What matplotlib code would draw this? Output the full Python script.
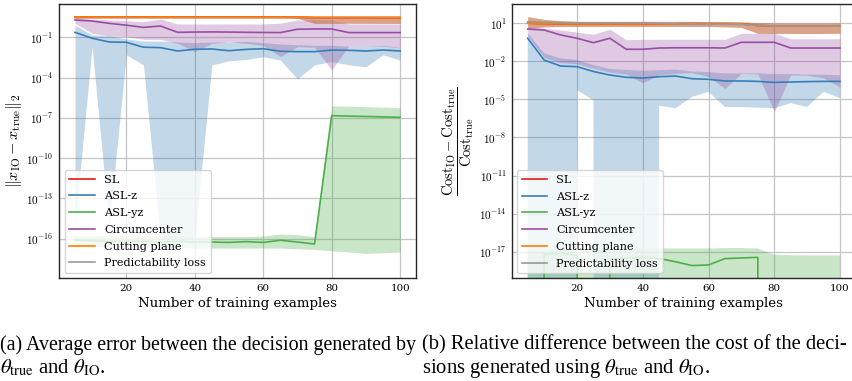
import numpy as np
import matplotlib
matplotlib.use("Agg")
import matplotlib.pyplot as plt
from matplotlib.ticker import NullLocator

NEG = -np.inf  # a value of exactly zero (clipped on the log axis)

# ---------------- data (log10 of the plotted values) ----------------
n_train = [5, 10, 15, 20, 25, 30, 35, 40, 45, 50, 55, 60, 65, 70, 75, 80, 85, 90, 95, 100]

# (a) decision error
a_top_mean = [0.49] * 14 + [0.47, 0.47, 0.47, 0.47, 0.47, 0.47]
a_top_hi = [0.53] * 20
a_top_lo = [0.45] * 13 + [0.42, 0.04, 0.04, 0.05, 0.04, 0.03, 0.03]

a_aslz_mean = [-0.63, -1.07, -1.35, -1.37, -1.74, -1.77, -2.02, -1.89, -1.87, -2.0,
               -1.9, -1.85, -2.04, -2.07, -2.07, -1.95, -1.97, -2.02, -1.95, -2.02]
a_aslz_lo = [-15.0, -1.7, -15.0, -2.3, -3.06, -16.0, -16.0, -16.0, -3.06, -2.75,
             -2.65, -2.45, -2.7, -4.1, -3.05, -2.8, -3.05, -3.2, -2.3, -2.7]
a_aslz_hi = [-0.08, -0.83, -0.87, -1.13, -1.28, -1.28, -1.35, -1.4, -1.35, -1.35,
             -1.3, -1.4, -1.5, -1.55, -1.6, -1.6, -1.65, -1.65, -1.6, -1.75]

a_aslyz_mean = [-16.1, -16.15, -16.2, -16.2, -16.2, -16.25, -16.2, -16.25, -16.25, -16.28,
                -16.22, -16.28, -16.12, -16.25, -16.4, -6.84, -6.87, -6.9, -6.93, -6.96]
a_aslyz_hi = [-15.85, -15.8, -15.8, -15.8, -15.8, -15.8, -15.8, -15.85, -15.85, -15.85,
              -15.85, -15.8, -15.65, -15.7, -15.85, -6.11, -6.13, -6.17, -6.2, -6.24]
a_aslyz_lo = [-16.5, -16.6, -16.6, -16.6, -16.6, -16.65, -16.65, -16.7, -16.7, -16.7,
              -16.7, -16.7, -16.7, -16.75, -16.8, -16.9, -17.0, -17.1, -17.05, -17.0]

a_circ_mean = [0.29, 0.21, 0.04, -0.1, -0.26, -0.16, -0.63, -0.61, -0.6, -0.61,
               -0.63, -0.64, -0.65, -0.4, -0.38, -0.38, -0.65, -0.65, -0.65, -0.65]
a_circ_hi = [0.46, 0.36, 0.29, 0.23, 0.16, 0.36, -0.01, -0.01, -0.01, -0.01,
             -0.01, -0.01, 0.05, 0.29, 0.29, 0.29, -0.01, -0.01, -0.01, -0.01]
a_circ_lo = [0.04, -0.7, -0.9, -0.95, -1.15, -1.15, -1.45, -2.07, -1.45, -1.33,
             -1.45, -1.6, -2.44, -1.7, -1.75, -3.43, -1.65, -1.65, -1.65, -1.8]

# (b) relative cost difference
b_cp_mean = [1.0, 0.97, 0.96, 0.95, 0.95, 0.95, 0.95, 0.95, 0.95, 0.96,
             0.97, 0.97, 0.97, 0.96, 0.82, 0.79, 0.79, 0.79, 0.79, 0.78]
b_pl_mean = [1.12, 1.08, 1.05, 1.03, 1.03, 1.03, 1.02, 1.02, 1.0, 0.95,
             0.93, 0.93, 0.93, 0.92, 0.82, 0.79, 0.79, 0.79, 0.79, 0.78]
b_top_hi = [1.52, 1.3, 1.2, 1.15, 1.15, 1.15, 1.15, 1.15, 1.15, 1.15,
            1.15, 1.12, 1.12, 1.1, 1.05, 1.02, 1.02, 1.02, 1.02, 1.02]
b_top_lo = [0.6, 0.72, 0.75, 0.75, 0.75, 0.75, 0.75, 0.75, 0.75, 0.75,
            0.75, 0.75, 0.72, 0.68, 0.21, 0.2, 0.2, 0.2, 0.2, 0.22]

b_aslz_mean = [-0.18, -1.9, -2.37, -2.42, -2.8, -3.08, -3.26, -3.32, -3.21, -3.16,
               -3.37, -3.42, -3.55, -3.55, -3.58, -3.66, -3.63, -3.6, -3.58, -3.58]
b_aslz_hi = [0.23, -1.37, -1.76, -1.9, -2.29, -2.6, -2.68, -2.74, -2.7, -2.65,
             -2.8, -2.85, -2.95, -2.95, -2.95, -3.0, -3.0, -3.05, -3.05, -3.1]
b_aslz_lo = [NEG, NEG, NEG, -4.27, -5.05, NEG, NEG, NEG, -5.5, -5.7,
             -4.8, -4.4, -5.6, -5.6, -5.65, -5.7, -5.3, -5.6, -4.4, -4.9]

b_aslyz_mean = [NEG, -17.2, -17.15, -17.3, NEG, -17.6, -17.5, -17.4, -17.55, -17.8,
                -18.1, -18.05, -17.55, -17.5, -17.45, NEG, NEG, NEG, NEG, NEG]
b_aslyz_hi = [-16.95, -17.0, -16.8, -16.8, -16.85, -16.8, -16.75, -16.75, -16.75, -16.75,
              -16.75, -16.75, -16.72, -16.72, -16.75, -17.25, -17.28, -17.3, -17.3, -17.3]
b_aslyz_lo = [NEG] * 20

b_circ_mean = [0.55, 0.47, 0.08, -0.18, -0.53, -0.18, -1.05, -1.05, -0.95, -0.93,
               -0.93, -0.93, -0.95, -0.5, -0.5, -0.5, -0.95, -0.95, -0.95, -0.95]
b_circ_hi = [0.73, 0.6, 0.47, 0.3, 0.13, 0.53, -0.3, -0.26, -0.26, -0.26,
             -0.26, -0.26, -0.26, 0.21, 0.21, 0.21, -0.22, -0.22, -0.22, -0.22]
b_circ_lo = [0.0, -1.7, -2.1, -2.2, -2.55, -2.85, -3.0, -3.69, -3.05, -2.95,
             -2.9, -3.2, -4.15, -2.95, -3.0, -5.97, -3.08, -3.1, -3.3, -4.05]

methods = ["SL", "ASL-z", "ASL-yz", "Circumcenter", "Cutting plane", "Predictability loss"]
colors = ["#e41a1c", "#377eb8", "#4daf4a", "#984ea3", "#ff7f00", "#999999"]

a_yticks = [-16, -13, -10, -7, -4, -1]
b_yticks = [-17, -14, -11, -8, -5, -2, 1]
xticks = [20, 40, 60, 80, 100]

caption_a = ["(a) Average error between the decision generated by",
             r"$\theta_{\mathrm{true}}$ and $\theta_{\mathrm{IO}}$."]
caption_b = ["(b) Relative difference between the cost of the deci-",
             r"sions generated using $\theta_{\mathrm{true}}$ and $\theta_{\mathrm{IO}}$."]

# ---------------- style ----------------
plt.rcParams.update({
    "font.family": "DejaVu Serif",
    "mathtext.fontset": "cm",
    "axes.edgecolor": "#262626",
    "axes.linewidth": 1.0,
    "grid.color": "#c4c4c4",
    "grid.linewidth": 0.9,
})

W, H = 852, 381
fig = plt.figure(figsize=(W / 100, H / 100), dpi=100)


def rect(l, t, r, b):
    return [l / W, 1 - b / H, (r - l) / W, (b - t) / H]


axA = fig.add_axes(rect(58.7, 4, 416.4, 278))
axB = fig.add_axes(rect(512.1, 4, 855.6, 278))

xs = np.array(n_train, dtype=float)


def p(v):
    return 10.0 ** np.asarray(v, dtype=float)


seriesA = [
    (a_top_mean, a_top_lo, a_top_hi, 2.3),
    (a_aslz_mean, a_aslz_lo, a_aslz_hi, 2.1),
    (a_aslyz_mean, a_aslyz_lo, a_aslyz_hi, 2.1),
    (a_circ_mean, a_circ_lo, a_circ_hi, 2.1),
    (a_top_mean, a_top_lo, a_top_hi, 2.4),
    (a_top_mean, a_top_lo, a_top_hi, 2.2),
]
seriesB = [
    (b_cp_mean, b_top_lo, b_top_hi, 2.1),
    (b_aslz_mean, b_aslz_lo, b_aslz_hi, 2.1),
    (b_aslyz_mean, b_aslyz_lo, b_aslyz_hi, 2.1),
    (b_circ_mean, b_circ_lo, b_circ_hi, 2.1),
    (b_cp_mean, b_top_lo, b_top_hi, 2.2),
    (b_pl_mean, b_top_lo, b_top_hi, 2.3),
]

for ax, series, ylim, yt in [
    (axA, seriesA, (-18.93, 1.48), a_yticks),
    (axB, seriesB, (-19.08, 2.52), b_yticks),
]:
    ax.set_yscale("log")
    for (mean, lo, hi, z), name, c in zip(series, methods, colors):
        ax.fill_between(xs, p(lo), p(hi), color=c, alpha=0.3, lw=0, zorder=1.5)
        ax.plot(xs, p(mean), color=c, lw=1.2, label=name, zorder=z)
    ax.set_xlim(0.25, 104.75)
    ax.set_ylim(10.0 ** ylim[0], 10.0 ** ylim[1])
    ax.set_yticks([10.0 ** e for e in yt])
    ax.set_yticklabels([r"$10^{%d}$" % e for e in yt])
    ax.yaxis.set_minor_locator(NullLocator())
    ax.set_xticks(xticks)
    ax.set_xticklabels([str(v) for v in xticks])
    ax.tick_params(axis="both", length=0, pad=4.0)
    ax.tick_params(axis="x", labelsize=7.4)
    ax.tick_params(axis="y", labelsize=8.0)
    ax.grid(True, zorder=0)
    ax.set_axisbelow(True)
    ax.set_xlabel("Number of training examples", fontsize=9.6, labelpad=3.5)

legA = axA.legend(loc="lower left", bbox_to_anchor=(0.0176, 0.019), borderaxespad=0,
                  fontsize=8.1, labelspacing=0.6, handlelength=2.3, framealpha=0.8,
                  edgecolor="#cccccc", fancybox=True)
legB = axB.legend(loc="lower left", bbox_to_anchor=(0.0143, 0.018), borderaxespad=0,
                  fontsize=8.1, labelspacing=0.6, handlelength=2.3, framealpha=0.8,
                  edgecolor="#cccccc", fancybox=True)

fig.text(14 / W, 1 - 141 / H, r"$\|x_{\mathrm{IO}} - x_{\mathrm{true}}\|_2$",
         rotation=90, ha="center", va="center", fontsize=11.5)
fig.text(458 / W, 1 - 141 / H,
         r"$\dfrac{\mathrm{Cost}_{\mathrm{IO}} - \mathrm{Cost}_{\mathrm{true}}}{\mathrm{Cost}_{\mathrm{true}}}$",
         rotation=90, ha="center", va="center", fontsize=10.5)

# ---------------- captions ----------------
cap_kw = dict(fontfamily="Liberation Serif", math_fontfamily="stix",
              va="center", ha="left")
fig.text(0, 1 - 345 / H, caption_a[0], fontsize=14.4, **cap_kw)
fig.text(0, 1 - 368 / H, caption_a[1], fontsize=14.9, **cap_kw)
fig.text(422 / W, 1 - 345 / H, caption_b[0], fontsize=14.75, **cap_kw)
fig.text(422 / W, 1 - 368 / H, caption_b[1], fontsize=14.9, **cap_kw)

fig.savefig("out.png", dpi=100)
